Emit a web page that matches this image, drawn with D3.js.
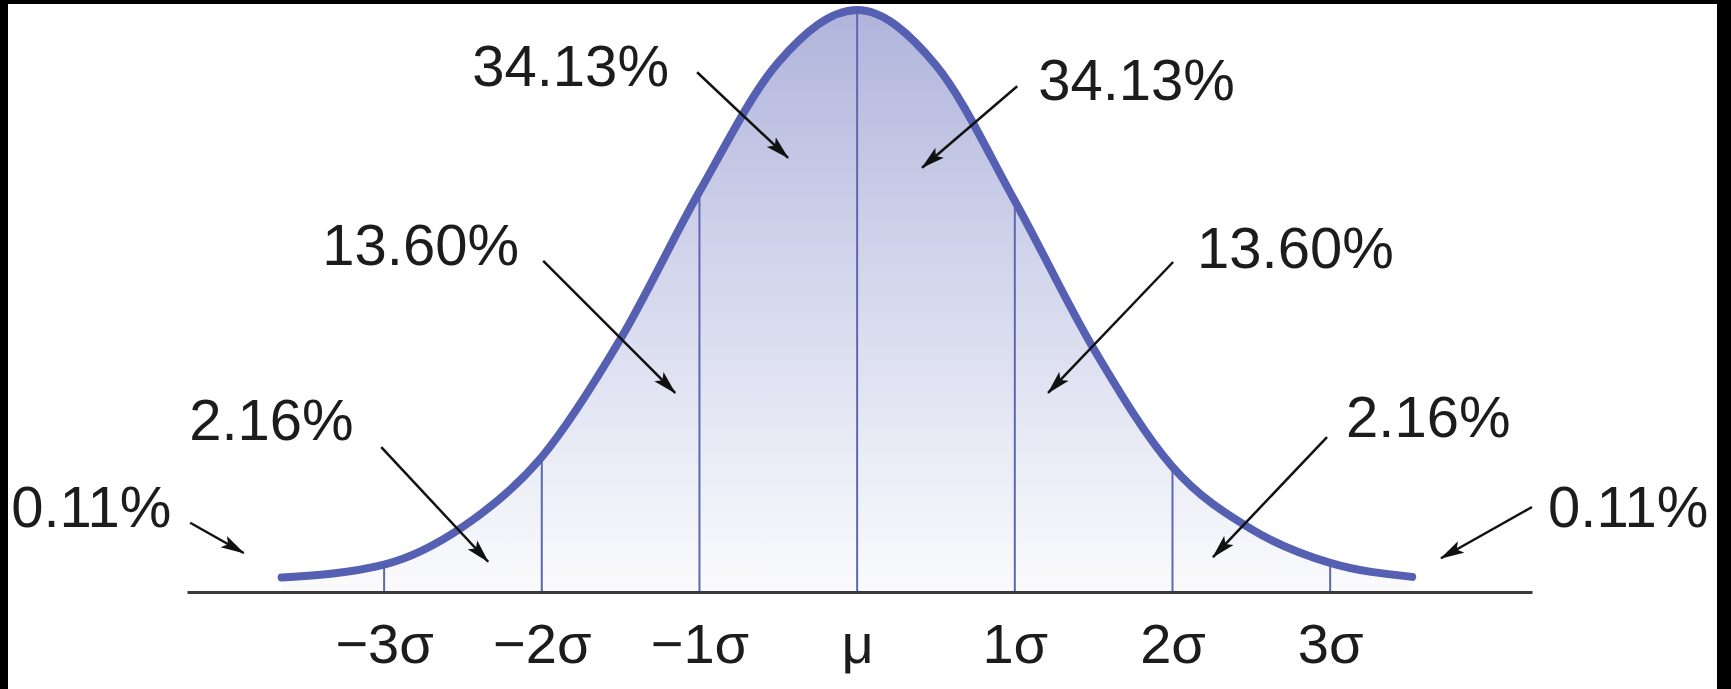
<!DOCTYPE html>
<html><head><meta charset="utf-8">
<script src="https://cdn.jsdelivr.net/npm/d3@7"></script>
<style>html,body{margin:0;padding:0;background:#000;overflow:hidden}</style>
</head><body><svg id="chart" width="1731" height="689"></svg>
<script>
// ---- data ----
// curve samples: position in sigma units, relative height (peak = 1)
const curveZ = [-3.65, -3, -2.5, -2, -1.5, -1, -0.5, 0, 0.5, 1, 1.5, 2, 2.5, 3, 3.52];
const curveV = [0.025, 0.047, 0.112, 0.232, 0.435, 0.688, 0.91, 1.0, 0.905, 0.672, 0.418, 0.215, 0.108, 0.050, 0.026];
// axis ticks
const tickZ = [-3, -2, -1, 0, 1, 2, 3];
const tickLabels = ["\u22123\u03C3", "\u22122\u03C3", "\u22121\u03C3", "\u03BC", "1\u03C3", "2\u03C3", "3\u03C3"];
// share of the area in each band (left to right)
const bandShares = [0.11, 2.16, 13.60, 34.13, 34.13, 13.60, 2.16, 0.11];

// ---- annotation layout (in chart units: sigma, relative height) ----
const annotLayout = [
  {tz: -5.365, tv: 0.112, sz: -4.23, sv: 0.119, ez: -3.89, ev: 0.067},
  {tz: -4.236, tv: 0.262, sz: -3.018, sv: 0.249, ez: -2.34, ev: 0.052},
  {tz: -3.392, tv: 0.562, sz: -1.991, sv: 0.569, ez: -1.154, ev: 0.342},
  {tz: -2.441, tv: 0.870, sz: -1.015, sv: 0.893, ez: -0.438, ev: 0.746},
  {tz: 1.148, tv: 0.846, sz: 1.015, sv: 0.869, ez: 0.412, ev: 0.729},
  {tz: 2.156, tv: 0.556, sz: 2.004, sv: 0.567, ez: 1.211, ev: 0.342},
  {tz: 3.101, tv: 0.266, sz: 2.980, sv: 0.266, ez: 2.257, ev: 0.060},
  {tz: 4.382, tv: 0.111, sz: 4.280, sv: 0.146, ez: 3.703, ev: 0.058}
];

const W = 1731, H = 689;
const FONT = "'Liberation Sans', Arial, Helvetica, sans-serif";
const svg = d3.select('#chart');

// frame
svg.append('rect').attr('width', W).attr('height', H).attr('fill', '#000');
svg.append('rect').attr('x', 8).attr('y', 4).attr('width', 1709).attr('height', H - 4).attr('fill', '#fff');

const x = d3.scaleLinear().domain([-4.25, 4.28]).range([187, 1532]);
const y = d3.scaleLinear().domain([0, 1]).range([592, 10]);

const pts = curveZ.map((z, i) => ({z, v: curveV[i]}));

const defs = svg.append('defs');
const grad = defs.append('linearGradient').attr('id', 'fillGrad')
  .attr('gradientUnits', 'userSpaceOnUse')
  .attr('x1', 0).attr('x2', 0).attr('y1', y(1)).attr('y2', y(0));
grad.append('stop').attr('offset', 0).attr('stop-color', '#b0b4db');
grad.append('stop').attr('offset', 0.45).attr('stop-color', '#d3d6ec');
grad.append('stop').attr('offset', 0.8).attr('stop-color', '#eceef7');
grad.append('stop').attr('offset', 1).attr('stop-color', '#fbfbfd');

defs.append('marker').attr('id', 'ah')
  .attr('viewBox', '0 -7 24 14').attr('refX', 23).attr('refY', 0)
  .attr('markerWidth', 24).attr('markerHeight', 14)
  .attr('markerUnits', 'userSpaceOnUse').attr('orient', 'auto')
  .append('path').attr('d', 'M0,-6.5L24,0L0,6.5L5,0Z').attr('fill', '#111');

const curveType = d3.curveMonotoneX;

// filled area
svg.append('path').datum(pts)
  .attr('d', d3.area().x(d => x(d.z)).y0(y(0)).y1(d => y(d.v)).curve(curveType))
  .attr('fill', 'url(#fillGrad)');

// sigma divider lines
svg.append('g').selectAll('line').data(tickZ).join('line')
  .attr('x1', d => x(d)).attr('x2', d => x(d))
  .attr('y1', y(0))
  .attr('y2', d => y(curveV[curveZ.indexOf(d)]))
  .attr('stroke', '#5d68b2').attr('stroke-width', 2);

// curve
svg.append('path').datum(pts)
  .attr('d', d3.line().x(d => x(d.z)).y(d => y(d.v)).curve(curveType))
  .attr('fill', 'none').attr('stroke', '#5560b2').attr('stroke-width', 8)
  .attr('stroke-linecap', 'round');

// axis
const axisG = svg.append('g').attr('transform', `translate(0,${y(0)})`)
  .call(d3.axisBottom(x).tickValues(tickZ).tickSize(0).tickSizeOuter(0)
    .tickPadding(31).tickFormat((d, i) => tickLabels[i]));
axisG.select('.domain').attr('stroke', '#3a3a3a').attr('stroke-width', 3);
axisG.selectAll('text').attr('font-family', FONT).attr('font-size', 56).attr('fill', '#1c1c1c');

// annotations
const ann = svg.append('g');
ann.selectAll('line').data(annotLayout).join('line')
  .attr('x1', d => x(d.sz)).attr('y1', d => y(d.sv))
  .attr('x2', d => x(d.ez)).attr('y2', d => y(d.ev))
  .attr('stroke', '#111').attr('stroke-width', 2.5)
  .attr('marker-end', 'url(#ah)');
ann.selectAll('text').data(annotLayout).join('text')
  .attr('x', d => x(d.tz)).attr('y', d => y(d.tv))
  .attr('font-family', FONT).attr('font-size', 58).attr('fill', '#1c1c1c')
  .text((d, i) => d3.format('.2f')(bandShares[i]) + '%');
</script></body></html>
